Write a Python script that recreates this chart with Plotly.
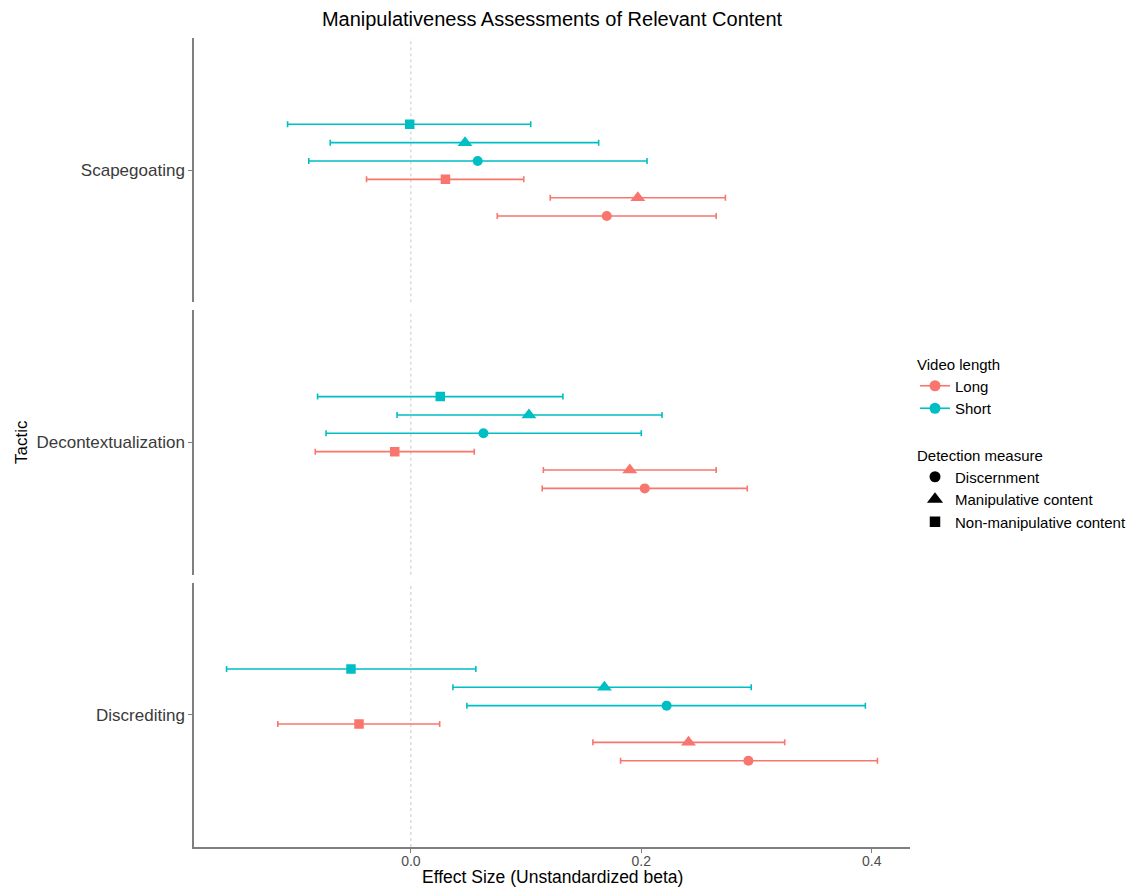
import plotly.graph_objects as go
from plotly.subplots import make_subplots

# ---------------- data ----------------
tactics = ["Scapegoating", "Decontextualization", "Discrediting"]
lengths = ["Long", "Short"]
measures = ["Discernment", "Manipulative content", "Non-manipulative content"]

# estimates [tactic][measure]
long_est = [[0.170, 0.197, 0.030],
            [0.203, 0.190, -0.014],
            [0.293, 0.241, -0.045]]
long_lo = [[0.075, 0.121, -0.0385],
           [0.114, 0.115, -0.083],
           [0.182, 0.158, -0.1155]]
long_hi = [[0.265, 0.273, 0.098],
           [0.292, 0.265, 0.055],
           [0.405, 0.3245, 0.025]]

short_est = [[0.058, 0.047, -0.001],
             [0.063, 0.1025, 0.0255],
             [0.222, 0.168, -0.052]]
short_lo = [[-0.0886, -0.070, -0.107],
            [-0.0736, -0.012, -0.081],
            [0.0486, 0.0365, -0.160]]
short_hi = [[0.205, 0.163, 0.104],
            [0.200, 0.218, 0.132],
            [0.3945, 0.2954, 0.0564]]

x_ticks = [0.0, 0.2, 0.4]
x_tick_labels = ["0.0", "0.2", "0.4"]

# ---------------- styling ----------------
colors = {"Long": "#F8766D", "Short": "#00BFC4"}
symbols = {"Discernment": "circle",
           "Manipulative content": "triangle-up",
           "Non-manipulative content": "square"}
sizes = {"Discernment": 10, "Manipulative content": 13,
         "Non-manipulative content": 9.5}
FONT = "Liberation Sans, Arial, Helvetica, sans-serif"
AXIS_GRAY = "#7f7f7f"

est = {"Long": long_est, "Short": short_est}
lo = {"Long": long_lo, "Short": short_lo}
hi = {"Long": long_hi, "Short": short_hi}

# dodge: 6 groups within width 0.5 (ggplot position_dodge)
group_order = [(l, m) for l in lengths for m in measures]  # Long first -> bottom
dodge_w = 0.5
n_g = len(group_order)
offsets = {g: -dodge_w / 2 + dodge_w / n_g * (i + 0.5) for i, g in enumerate(group_order)}

all_vals = [v for d in (lo, hi) for k in d for row in d[k] for v in row]
span = max(all_vals) - min(all_vals)
x_range = [min(all_vals) - 0.05 * span, max(all_vals) + 0.05 * span]

W, H = 1135, 887
mt, mb, ml, mr = 38, 40, 194, 225
plot_h = H - mt - mb
plot_w = W - ml - mr
fig = make_subplots(rows=3, cols=1, shared_xaxes=True,
                    vertical_spacing=8 / plot_h)

for ti, tac in enumerate(tactics):
    row = ti + 1
    for (l, m) in group_order:
        mi = measures.index(m)
        v = est[l][ti][mi]
        fig.add_trace(go.Scatter(
            x=[v], y=[1 + offsets[(l, m)]],
            mode="markers",
            marker=dict(symbol=symbols[m], size=sizes[m], color=colors[l],
                        line=dict(width=0)),
            error_x=dict(type="data", symmetric=False,
                         array=[hi[l][ti][mi] - v],
                         arrayminus=[v - lo[l][ti][mi]],
                         color=colors[l], thickness=1.6, width=3),
            showlegend=False, hoverinfo="skip",
        ), row=row, col=1)
    fig.add_shape(type="line", x0=0, x1=0, y0=0, y1=1,
                  xref="x" if row == 1 else f"x{row}",
                  yref="y domain" if row == 1 else f"y{row} domain",
                  line=dict(color="#c8c8c8", width=1, dash="dot"),
                  layer="below")
    fig.update_yaxes(range=[0.4, 1.6], tickvals=[1], ticktext=[tac],
                     showline=True, linecolor=AXIS_GRAY, linewidth=1.5,
                     ticks="outside", ticklen=4, tickcolor=AXIS_GRAY,
                     tickwidth=1.2,
                     tickfont=dict(size=17, color="#3a3a3a", family=FONT),
                     showgrid=False, zeroline=False, fixedrange=True,
                     row=row, col=1)
    fig.update_xaxes(range=x_range, showgrid=False, zeroline=False,
                     showline=(row == 3), linecolor=AXIS_GRAY, linewidth=1.5,
                     ticks="outside" if row == 3 else "", ticklen=4,
                     tickcolor=AXIS_GRAY, tickwidth=1.2,
                     tickvals=x_ticks, ticktext=x_tick_labels,
                     showticklabels=(row == 3),
                     ticklabelstandoff=-4,
                     tickfont=dict(size=14, color="#4d4d4d", family=FONT),
                     row=row, col=1)

# legend entries
for l in lengths:
    fig.add_trace(go.Scatter(
        x=[None], y=[None], mode="lines+markers", name=l,
        marker=dict(symbol="circle", size=11, color=colors[l]),
        line=dict(color=colors[l], width=1.6),
        legend="legend", showlegend=True))
for m in measures:
    fig.add_trace(go.Scatter(
        x=[None], y=[None], mode="markers", name=m,
        marker=dict(symbol=symbols[m], size=sizes[m] + 1, color="black"),
        legend="legend2", showlegend=True))

fig.update_layout(
    width=W, height=H,
    margin=dict(l=ml, r=mr, t=mt, b=mb, autoexpand=False),
    paper_bgcolor="white", plot_bgcolor="white",
    font=dict(family=FONT, color="black"),
    title=dict(text="Manipulativeness Assessments of Relevant Content",
               x=(ml + plot_w / 2) / W, xanchor="center",
               y=1 - 19 / H, yanchor="middle",
               font=dict(size=20, color="black", family=FONT)),
    legend=dict(title=dict(text="Video length", font=dict(size=15)),
                font=dict(size=15, family=FONT, color="black"),
                x=(915 - ml) / plot_w, xanchor="left",
                y=(H - mb - 350) / plot_h, yanchor="top",
                bgcolor="rgba(0,0,0,0)", itemwidth=30, tracegroupgap=0),
    legend2=dict(title=dict(text="Detection measure", font=dict(size=15)),
                 font=dict(size=15, family=FONT, color="black"),
                 x=(915 - ml) / plot_w, xanchor="left",
                 y=(H - mb - 441) / plot_h, yanchor="top",
                 bgcolor="rgba(0,0,0,0)", itemwidth=30),
    annotations=[
        dict(text="Tactic", textangle=-90, showarrow=False,
             xref="paper", yref="paper",
             x=(21 - ml) / plot_w, y=(H - mb - 442) / plot_h,
             xanchor="center", yanchor="middle",
             font=dict(size=17, color="black", family=FONT)),
        dict(text="Effect Size (Unstandardized beta)", showarrow=False,
             xref="paper", yref="paper",
             x=0.5, y=(H - mb - 877) / plot_h,
             xanchor="center", yanchor="middle",
             font=dict(size=17.5, color="black", family=FONT)),
    ],
)

fig.write_html("out.html")
